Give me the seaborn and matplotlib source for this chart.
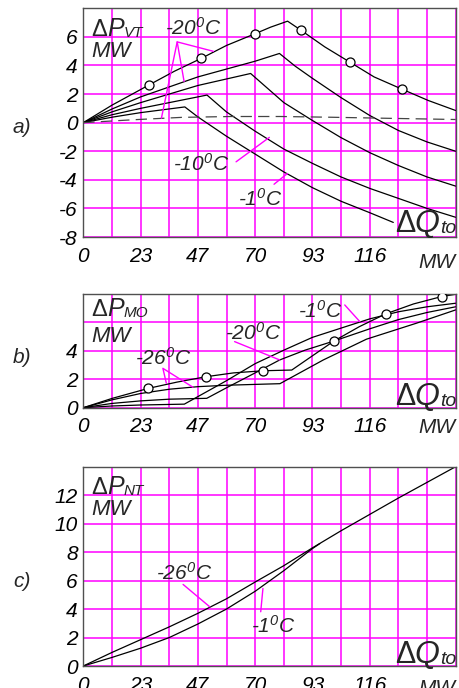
import numpy as np
import pandas as pd
import matplotlib
matplotlib.use("Agg")
import matplotlib.pyplot as plt
import seaborn as sns

sns.set_style("white")
plt.rcParams['font.family'] = ['Liberation Sans', 'DejaVu Sans']
plt.rcParams['font.style'] = 'italic'
plt.rcParams['mathtext.fontset'] = 'custom'
plt.rcParams['mathtext.rm'] = 'Liberation Sans'
plt.rcParams['mathtext.it'] = 'Liberation Sans:italic'
plt.rcParams['mathtext.bf'] = 'Liberation Sans:bold'

# ---------------- data ----------------
grid_step = 11.625
x_grid = [i * grid_step for i in range(14)]
x_tick_labels = ["0", "", "23", "", "47", "", "70", "", "93", "", "116", "", "", ""]

# panel a) dP_VT
a1_x = [0, 11.6, 26.7, 37, 47.9, 58.1, 69.7, 76, 82.9, 88.3, 98, 108.3, 118, 129.5, 140, 151.1]
a1_y = [0, 1.22, 2.64, 3.6, 4.5, 5.4, 6.22, 6.68, 7.1, 6.47, 5.3, 4.22, 3.2, 2.33, 1.55, 0.85]
a1_mx = [26.7, 47.9, 69.7, 88.3, 108.3, 129.5]
a1_my = [2.64, 4.5, 6.22, 6.47, 4.22, 2.33]
a2_x = [0, 11.6, 23.25, 46.5, 69.75, 79.6, 86, 93, 104.6, 116.25, 127.9, 139.5, 151.1]
a2_y = [0, 0.95, 1.8, 3.2, 4.3, 4.84, 3.95, 3.1, 1.75, 0.5, -0.55, -1.35, -2.0]
a3_x = [0, 11.6, 23.25, 46.5, 67.9, 81.4, 93, 104.6, 116.25, 127.9, 139.5, 151.1]
a3_y = [0, 0.75, 1.4, 2.6, 3.44, 1.4, 0.15, -1.05, -2.1, -3.0, -3.8, -4.44]
a4_x = [0, 11.6, 23.25, 50.2, 58.1, 69.75, 81.4, 93, 104.6, 116.25, 127.9, 139.5, 151.1]
a4_y = [0, 0.55, 1.0, 1.93, 0.75, -0.6, -1.85, -2.85, -3.8, -4.6, -5.3, -6.0, -6.62]
a5_x = [0, 11.6, 23.25, 41.2, 46.5, 58.1, 69.75, 81.4, 93, 104.6, 116.25, 125.8]
a5_y = [0, 0.38, 0.7, 1.1, 0.4, -0.95, -2.2, -3.45, -4.55, -5.5, -6.3, -6.98]
a_dash_x = [0, 20, 40, 60, 80, 100, 125, 151.1]
a_dash_y = [0, 0.2, 0.37, 0.43, 0.43, 0.38, 0.3, 0.22]

# panel b) dP_MO
b1_x = [0, 11.6, 26.4, 38, 49.8, 61, 73.1, 84.6, 101.7, 112, 122.7, 134, 145.4, 151.1]
b1_y = [0, 0.65, 1.36, 1.8, 2.18, 2.45, 2.6, 2.65, 4.69, 5.7, 6.6, 7.3, 7.82, 7.98]
b1_mx = [26.4, 49.8, 73.1, 101.7, 122.7, 145.4]
b1_my = [1.36, 2.18, 2.6, 4.69, 6.6, 7.82]
b2_x = [0, 11.6, 23.25, 41, 58.1, 69.75, 81.4, 93, 104.6, 116.25, 127.9, 139.5, 151.1]
b2_y = [0, 0.12, 0.19, 0.25, 1.9, 3.1, 4.05, 4.95, 5.6, 6.25, 6.75, 7.1, 7.35]
b3_x = [0, 11.6, 23.25, 35, 50.1, 58.1, 69.75, 79.7, 90, 101.7, 116.25, 127.9, 139.5, 151.1]
b3_y = [0, 0.3, 0.48, 0.6, 0.66, 1.4, 2.45, 3.36, 4.05, 4.69, 5.55, 6.2, 6.7, 7.1]
b4_x = [0, 11.6, 23.25, 34.9, 46.5, 58.1, 69.75, 79.8, 97.4, 114.9, 135.1, 151.1]
b4_y = [0, 0.55, 1.0, 1.3, 1.48, 1.58, 1.64, 1.69, 3.36, 4.82, 5.94, 6.88]

# panel c) dP_NT
c1_x = [0, 11.6, 23.25, 34.9, 46.5, 58.1, 69.75, 81.4, 93, 104.6, 116.25, 127.9, 139.5, 151.1]
c1_y = [0, 0.95, 1.85, 2.75, 3.7, 4.72, 5.9, 7.05, 8.3, 9.5, 10.65, 11.8, 12.9, 14.0]
c2_x = [0, 11.6, 23.25, 34.9, 46.5, 58.1, 69.75, 81.4, 93, 96]
c2_y = [0, 0.6, 1.25, 2.0, 2.95, 4.0, 5.25, 6.7, 8.25, 8.6]

# ---------------- figure ----------------
W, H = 459, 688
fig = plt.figure(figsize=(W / 100, H / 100), dpi=100)
renderer = fig.canvas.get_renderer()

def px_axes(left, top, right, bottom):
    return fig.add_axes([left / W, 1 - bottom / H, (right - left) / W, (bottom - top) / H])

axa = px_axes(83.3, 8.3, 455.7, 237)
axb = px_axes(83.3, 294, 455.7, 407.7)
axc = px_axes(83.3, 466.7, 455.7, 666)

MAG = '#ff00ff'
LW = 0.9
FS = 15

def style(ax, ylim, yticks, ylabels, xpad):
    ax.set_xlim(0, 13 * grid_step)
    ax.set_ylim(*ylim)
    ax.set_xticks(x_grid)
    ax.set_xticklabels(x_tick_labels)
    ax.set_yticks(yticks)
    ax.set_yticklabels(ylabels)
    ax.set_axisbelow(True)
    ax.grid(True, color=MAG, lw=1.1)
    ax.tick_params(length=0, labelsize=FS, colors='black')
    ax.tick_params(axis='x', pad=xpad)
    ax.tick_params(axis='y', pad=4)
    for lab in ax.get_xticklabels() + ax.get_yticklabels():
        lab.set_fontstyle('italic')
    for s in ax.spines.values():
        s.set_color('#505050')
        s.set_linewidth(1.0)
    ax.set_xlabel('')
    ax.set_ylabel('')

def curve(ax, x, y, **kw):
    df = pd.DataFrame({'x': x, 'y': y})
    sns.lineplot(data=df, x='x', y='y', ax=ax, color='black', lw=LW, sort=False,
                 estimator=None, **kw)

def markers(ax, x, y):
    ax.plot(x, y, ls='none', marker='o', ms=6.5, mfc='white', mec='black', mew=0.9, zorder=5)

def sup_label(ax, x, y, txt):
    ax.text(x, y, txt, fontsize=FS, va='baseline', ha='left', fontstyle='italic')

def pointer(ax, pts):
    xs, ys = zip(*pts)
    ax.plot(xs, ys, color=MAG, lw=1.0, zorder=4)

def seq_text(x_px, base_px, pieces, align='left'):
    """pieces: (text, size, style, baseline offset px); x_px/base_px from top-left."""
    objs = []
    widths = []
    for txt, size, st, dy in pieces:
        t = fig.text(0, 0, txt, fontsize=size, fontstyle=st, va='baseline', ha='left')
        w = t.get_window_extent(renderer).width
        objs.append((t, dy))
        widths.append(w)
    total = sum(widths)
    x = x_px - total if align == 'right' else x_px
    for (t, dy), w in zip(objs, widths):
        t.set_position((x / W, 1 - (base_px + dy) / H))
        x += w

# ---- panel a ----
curve(axa, a1_x, a1_y)
markers(axa, a1_mx, a1_my)
curve(axa, a2_x, a2_y)
curve(axa, a3_x, a3_y)
curve(axa, a4_x, a4_y)
curve(axa, a5_x, a5_y)
curve(axa, a_dash_x, a_dash_y, linestyle=(0, (9, 5)))
axa.lines[-1].set_color('#444444')
style(axa, (-8, 8), list(range(-8, 9, 2)),
      ['-8', '-6', '-4', '-2', '0', '2', '4', '6', ''], 7)
pointer(axa, [(52.8, 4.99), (38.1, 5.65), (40.9, 2.88)])
pointer(axa, [(38.1, 5.65), (31.7, 0.31)])
pointer(axa, [(62.0, -2.74), (75.5, -1.03)])
pointer(axa, [(77.4, -4.31), (82.8, -3.56)])
sup_label(axa, 33.0, 6.17, '-20$^{\\mathit{0}}$C')
sup_label(axa, 36.2, -3.4, '-10$^{\\mathit{0}}$C')
sup_label(axa, 62.6, -5.79, '-1$^{\\mathit{0}}$C')

# ---- panel b ----
curve(axb, b1_x, b1_y)
markers(axb, b1_mx, b1_my)
curve(axb, b2_x, b2_y)
curve(axb, b3_x, b3_y)
curve(axb, b4_x, b4_y)
style(axb, (0, 8), [0, 2, 4, 6, 8], ['0', '2', '4', '', ''], 7)
pointer(axb, [(33.7, 1.72), (32.3, 2.77), (44.5, 1.44)])
pointer(axb, [(61.4, 4.65), (79.7, 3.36)])
pointer(axb, [(106.1, 7.23), (112.2, 6.06)])
sup_label(axb, 20.9, 3.0, '-26$^{\\mathit{0}}$C')
sup_label(axb, 57.7, 4.75, '-20$^{\\mathit{0}}$C')
sup_label(axb, 87.0, 6.32, '-1$^{\\mathit{0}}$C')

# ---- panel c ----
curve(axc, c1_x, c1_y)
curve(axc, c2_x, c2_y)
style(axc, (0, 14), list(range(0, 15, 2)),
      ['0', '2', '4', '6', '8', '10', '12', ''], 7)
pointer(axc, [(40.5, 5.73), (51.3, 4.16)])
pointer(axc, [(72.0, 3.81), (72.9, 5.45)])
sup_label(axc, 29.5, 6.03, '-26$^{\\mathit{0}}$C')
sup_label(axc, 68.0, 2.32, '-1$^{\\mathit{0}}$C')

# ---- axis captions (pixel positions from top-left) ----
captions = [('VT', 36, 57, 232, 'a)', 133),
            ('MO', 316, 342, 405, 'b)', 363),
            ('NT', 494, 515, 663, 'c)', 587)]
for sub, base_p, base_mw, base_q, panel, base_panel in captions:
    seq_text(91, base_p, [('Δ', 17, 'normal', 0), ('P', 18, 'italic', 0),
                          (sub, 11, 'italic', 1)])
    seq_text(91, base_mw, [('MW', 16, 'italic', 0)])
    seq_text(456, base_q, [('Δ', 22, 'normal', 0), ('Q', 23, 'italic', 0),
                           ('to', 14, 'italic', 1)], align='right')
    seq_text(13, base_panel, [(panel, FS, 'italic', 0)])

for base in (268, 433, 694):
    fig.text(437 / W, 1 - base / H, 'MW', fontsize=FS, fontstyle='italic',
             va='baseline', ha='center')

fig.savefig('out.png', dpi=100)
